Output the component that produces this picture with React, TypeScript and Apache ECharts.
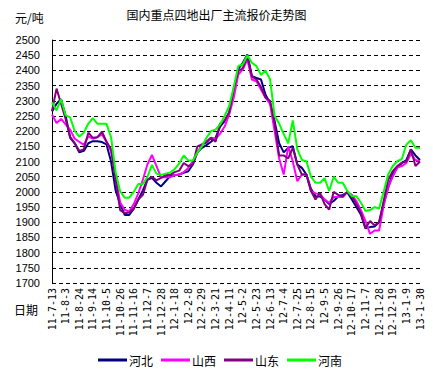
import { useEffect, useRef } from "react";
import * as echarts from "echarts";

const tickLabels = [
  "11-7-13", "11-8-3", "11-8-24", "11-9-14", "11-10-5", "11-10-26", "11-11-16",
  "11-12-7", "11-12-28", "12-1-18", "12-2-8", "12-2-29", "12-3-21", "12-4-11",
  "12-5-2", "12-5-23", "12-6-13", "12-7-4", "12-7-25", "12-8-15", "12-9-5",
  "12-9-26", "12-10-17", "12-11-7", "12-11-28", "12-12-19", "13-1-9", "13-1-30",
];

const seriesNames = ["河北", "山西", "山东", "河南"];
const seriesColors = ["#000080", "#FF00FF", "#800080", "#00FF00"];

const hebei = [
  2265, 2290, 2305, 2250, 2178, 2160, 2130, 2135, 2160, 2167,
  2167, 2164, 2156, 2100, 2005, 1960, 1924, 1924, 1945, 1975,
  2005, 2040, 2046, 2030, 2018, 2035, 2052, 2055, 2057, 2063,
  2068, 2090, 2130, 2145, 2154, 2165, 2178, 2215, 2233, 2260,
  2330, 2405, 2425, 2452, 2381, 2375, 2370, 2320, 2293, 2233,
  2160, 2130, 2145, 2150, 2090, 2079, 2057, 2010, 1986, 1985,
  1975, 1960, 1970, 1985, 1990, 1998, 1975, 1950, 1925, 1880,
  1884, 1886, 1900, 1960, 2014, 2060, 2080, 2095, 2105, 2140,
  2120, 2105,
];

const shanxi = [
  2255, 2227, 2240, 2222, 2205, 2175, 2165, 2155, 2183, 2175,
  2180, 2189, 2165, 2134, 2050, 1965, 1941, 1935, 1960, 1995,
  2040, 2090, 2122, 2085, 2048, 2048, 2048, 2055, 2057, 2065,
  2079, 2101, 2129, 2156, 2167, 2178, 2175, 2192, 2215, 2255,
  2310, 2386, 2403, 2436, 2370, 2364, 2337, 2310, 2290, 2200,
  2110, 2057, 2150, 2100, 2035, 2057, 2057, 2003, 1995, 1992,
  1975, 1964, 1983, 1983, 1983, 2000, 1990, 1970, 1940, 1904,
  1862, 1873, 1873, 1955, 2015, 2050, 2080, 2085, 2095, 2125,
  2105, 2101,
];

const shandong = [
  2266, 2340, 2290, 2240, 2181, 2160, 2135, 2140, 2195, 2178,
  2180, 2198, 2165, 2140, 2040, 1940, 1930, 1932, 1945, 1975,
  1990, 2040, 2050, 2038, 2046, 2055, 2056, 2065, 2070, 2095,
  2085, 2090, 2150, 2156, 2162, 2178, 2165, 2225, 2235, 2262,
  2340, 2397, 2408, 2447, 2380, 2370, 2345, 2310, 2300, 2225,
  2120, 2120, 2110, 2145, 2090, 2057, 2057, 2003, 1975, 1997,
  1960, 1942, 2000, 1990, 1985, 2000, 1985, 1960, 1930, 1880,
  1904, 1890, 1900, 1970, 2040, 2068, 2085, 2096, 2100, 2140,
  2085, 2100,
];

const henan = [
  2295, 2268, 2305, 2252, 2245, 2200, 2182, 2195, 2225, 2243,
  2224, 2224, 2224, 2180, 2065, 2002, 1981, 1981, 2000, 2026,
  2026, 2050, 2089, 2060, 2056, 2060, 2064, 2075, 2094, 2120,
  2103, 2103, 2130, 2150, 2178, 2200, 2205, 2222, 2250, 2282,
  2345, 2414, 2420, 2450, 2425, 2414, 2385, 2400, 2370, 2250,
  2225, 2190, 2160, 2235, 2140, 2105, 2101, 2050, 2030, 2030,
  2045, 2003, 2050, 2030, 2030, 2003, 1986, 1986, 1964, 1937,
  1940, 1950, 1945, 2000, 2057, 2085, 2101, 2108, 2156, 2170,
  2145, 2145,
];

const seriesData = [hebei, shanxi, shandong, henan];

// weekly category dates starting at the first tick label (2011-07-13)
function weeklyCategories(count: number): string[] {
  const out: string[] = [];
  const start = Date.UTC(2011, 6, 13);
  for (let k = 0; k < count; k++) {
    const d = new Date(start + k * 7 * 86400000);
    const yy = String(d.getUTCFullYear()).slice(2);
    out.push(`${yy}-${d.getUTCMonth() + 1}-${d.getUTCDate()}`);
  }
  return out;
}

const categories = weeklyCategories(hebei.length);

const FONT = "'Liberation Sans', Arial, 'Noto Sans CJK SC', sans-serif";
const CJK = "'Noto Sans CJK SC', sans-serif";

export default function App() {
  const ref = useRef<HTMLDivElement>(null);
  useEffect(() => {
    if (!ref.current) return;
    const chart = echarts.init(ref.current, null, { renderer: "svg" });
    chart.setOption({
      animation: false,
      backgroundColor: "#ffffff",
      textStyle: { fontFamily: FONT },
      grid: { left: 52, right: 13, top: 40, bottom: 87, containLabel: false },
      graphic: [
        {
          type: "text",
          left: "center",
          top: 8,
          style: { text: "国内重点四地出厂主流报价走势图", fill: "#000", font: `12px ${CJK}` },
        },
        {
          type: "text",
          left: 15,
          top: 11,
          style: { text: "元/吨", fill: "#000", font: `12px ${CJK}` },
        },
        {
          type: "text",
          left: 14,
          top: 303,
          style: { text: "日期", fill: "#000", font: `12px ${CJK}` },
        },
      ],
      legend: {
        data: seriesNames,
        left: 93,
        top: 349,
        icon: "rect",
        itemWidth: 29,
        itemHeight: 3,
        itemGap: 8,
        textStyle: { fontSize: 12, color: "#000", fontFamily: CJK, padding: [0, 0, 0, -3] },
      },
      xAxis: {
        type: "category",
        data: categories,
        boundaryGap: false,
        axisLine: { show: false },
        axisTick: { show: false },
        axisLabel: {
          interval: 2,
          rotate: 90,
          fontSize: 10,
          color: "#000",
          margin: 5,
          fontFamily: "'DejaVu Sans Mono', monospace",
          formatter: (v: string) => (tickLabels.includes(v) ? v : ""),
        },
        splitLine: { show: false },
      },
      yAxis: {
        type: "value",
        min: 1700,
        max: 2500,
        interval: 50,
        axisLine: { show: true, lineStyle: { color: "#000", width: 1 } },
        axisTick: { show: false },
        axisLabel: {
          fontSize: 11,
          color: "#000",
          margin: 12,
          fontFamily: FONT,
          formatter: (v: number) => String(v),
        },
        splitLine: { show: true, lineStyle: { color: "#000", width: 1, type: [4, 3] } },
      },
      series: seriesNames.map((name, idx) => ({
        name,
        type: "line",
        data: seriesData[idx],
        symbol: "none",
        smooth: false,
        lineStyle: { color: seriesColors[idx], width: 2 },
        itemStyle: { color: seriesColors[idx] },
      })),
    });
    return () => chart.dispose();
  }, []);
  return (
    <div
      ref={ref}
      style={{ position: "fixed", left: 0, top: 0, width: 433, height: 370, background: "#fff" }}
    />
  );
}
